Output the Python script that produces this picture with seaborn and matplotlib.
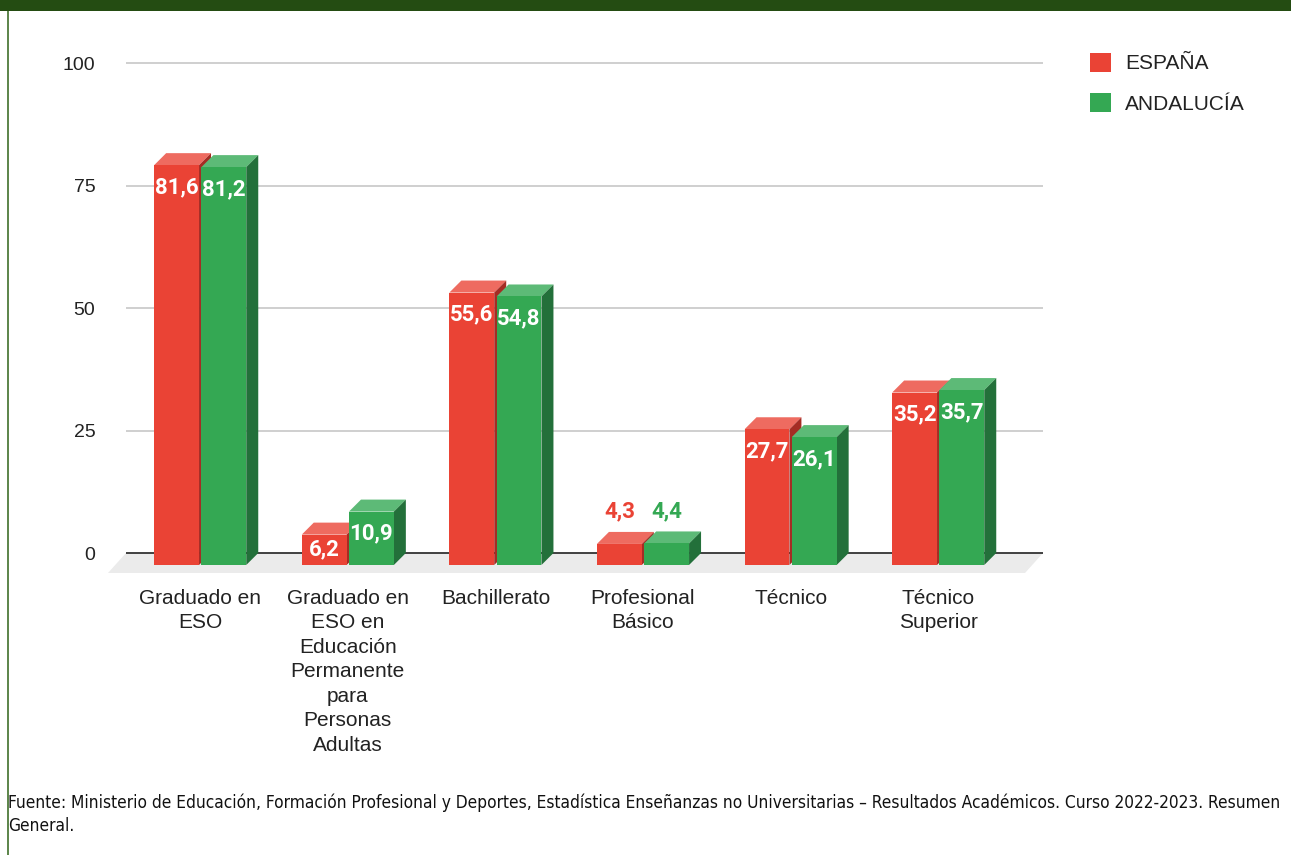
import numpy as np
import pandas as pd
import matplotlib
matplotlib.use("Agg")
import matplotlib.pyplot as plt
from matplotlib.patches import Polygon, Rectangle
from matplotlib.lines import Line2D
import seaborn as sns

# ---------------- data ----------------
categories = ["Graduado en ESO",
              "Graduado en ESO en Educación Permanente para Personas Adultas",
              "Bachillerato", "Profesional Básico", "Técnico", "Técnico Superior"]
tick_labels = ["Graduado en\nESO",
               "Graduado en\nESO en\nEducación\nPermanente\npara\nPersonas\nAdultas",
               "Bachillerato", "Profesional\nBásico", "Técnico", "Técnico\nSuperior"]
series_names = ["ESPAÑA", "ANDALUCÍA"]
espana = [81.6, 6.2, 55.6, 4.3, 27.7, 35.2]
andalucia = [81.2, 10.9, 54.8, 4.4, 26.1, 35.7]
y_ticks = [0, 25, 50, 75, 100]
source = ("Fuente: Ministerio de Educación, Formación Profesional y Deportes, Estadística "
          "Enseñanzas no Universitarias – Resultados Académicos. Curso 2022-2023. Resumen")
source2 = "General."

# ---------------- style ----------------
front = ["#EA4335", "#34A853"]
top_c = ["#EE6B60", "#5DBA77"]
side_c = ["#A52C24", "#23703A"]

sns.set_theme(style="white")
plt.rcParams["font.family"] = ["Liberation Sans", "DejaVu Sans"]

W, H = 1291, 855
fig = plt.figure(figsize=(W / 100, H / 100), dpi=100)

# axes geometry (pixels)
px_left, px_right = 126, 1043
y0_px, y100_px = 553, 63
ppu = (y0_px - y100_px) / 100.0  # pixels per unit
ylim = (-5.0, 102.0)
ax_top_px = y0_px - ylim[1] * ppu
ax_bot_px = y0_px - ylim[0] * ppu
ax = fig.add_axes([px_left / W, 1 - ax_bot_px / H,
                   (px_right - px_left) / W, (ax_bot_px - ax_top_px) / H])

df = pd.DataFrame({
    "cat": categories * 2,
    "val": espana + andalucia,
    "serie": [series_names[0]] * 6 + [series_names[1]] * 6,
})

sns.barplot(data=df, x="cat", y="val", hue="serie", palette=front,
            saturation=1, width=0.64, gap=0.05, ax=ax, legend=True,
            edgecolor="none", linewidth=0)

slot_px = 147.6
dx = 12 / slot_px   # depth offset in x (data units)
dy = 12 / ppu       # depth offset in y (data units)

x0_px = 212.2
xlim = (-(x0_px - px_left) / slot_px, (px_right - x0_px) / slot_px)

lab_font = dict(fontsize=16, fontweight="bold", family=["Roboto", "DejaVu Sans"])
for si, cont in enumerate(ax.containers):
    z = 2 + si
    for bar in cont:
        x = bar.get_x()
        w = bar.get_width()
        v = bar.get_height()
        bar.set_x(x - dx)
        bar.set_y(-dy)
        bar.set_zorder(z + 0.2)
        topf = Polygon([(x - dx, v - dy), (x, v), (x + w, v), (x + w - dx, v - dy)],
                       closed=True, facecolor=top_c[si], edgecolor="none", zorder=z)
        sidef = Polygon([(x + w - dx, -dy), (x + w, 0), (x + w, v), (x + w - dx, v - dy)],
                        closed=True, facecolor=side_c[si], edgecolor="none", zorder=z)
        ax.add_patch(topf)
        ax.add_patch(sidef)
        cx = x - dx + w / 2
        lab = f"{v:.1f}".replace(".", ",")
        if v < 5:
            ax.text(cx, v + 4.1, lab, ha="center", va="center", color=front[si],
                    zorder=6, **lab_font)
        else:
            cy = v - dy - min(22 / ppu, v / 2)
            ax.text(cx, cy, lab, ha="center", va="center", color="white",
                    zorder=6, **lab_font)

# floor
fx = 18 / slot_px
fy = 20 / ppu
floor = Polygon([(xlim[0] - fx, -fy), (xlim[0], 0), (xlim[1], 0), (xlim[1] - fx, -fy)],
                closed=True, facecolor="#EBEBEB", edgecolor="none", zorder=0.3,
                clip_on=False)
ax.add_patch(floor)

ax.set_xlim(*xlim)
ax.set_ylim(*ylim)
ax.set_yticks(y_ticks)
ax.set_yticklabels([str(t) for t in y_ticks])
ax.set_xticks(np.arange(len(categories)) - dx)
ax.set_xticklabels(tick_labels, linespacing=1.37)
ax.set_xlabel("")
ax.set_ylabel("")
ax.tick_params(axis="y", length=0, pad=22, labelsize=14, labelcolor="#222222")
ax.tick_params(axis="x", length=0, pad=8, labelsize=15, labelcolor="#222222")
for s in ax.spines.values():
    s.set_visible(False)
ax.set_axisbelow(True)
for t in y_ticks[1:]:
    ax.axhline(t, color="#CCCCCC", lw=1.3, zorder=0.2)
ax.axhline(0, color="#333333", lw=1.3, zorder=0.4)
ax.grid(False)

# legend
sns.move_legend(ax, loc="upper left", bbox_to_anchor=(1090 / W, 1 - 53 / H),
                bbox_transform=fig.transFigure, frameon=False, title=None,
                fontsize=15, handlelength=1.0, handleheight=1.0,
                handletextpad=0.7, labelspacing=0.95, borderpad=0, borderaxespad=0)
for t in ax.get_legend().get_texts():
    t.set_color("#222222")

# frame decorations
fig.patches.append(Rectangle((0, 1 - 11 / H), 1, 11 / H, transform=fig.transFigure,
                             facecolor="#244C12", edgecolor="none", zorder=10))
fig.lines.append(Line2D([7.5 / W, 7.5 / W], [0, 1], transform=fig.transFigure,
                        color="#3F6F2A", lw=1.2, zorder=10))

# footer
ft = fig.text(8 / W, 1 - 803 / H, source, ha="left", va="center", fontsize=10,
              family=["DejaVu Sans"], fontstretch="condensed", color="#111111")
fig.canvas.draw()
wpx = ft.get_window_extent().width
ft.set_fontsize(10 * 1279 / wpx)
fig.text(8 / W, 1 - 826 / H, source2, ha="left", va="center", fontsize=10 * 1279 / wpx,
         family=["DejaVu Sans"], fontstretch="condensed", color="#111111")

fig.savefig("out.png", dpi=100)
